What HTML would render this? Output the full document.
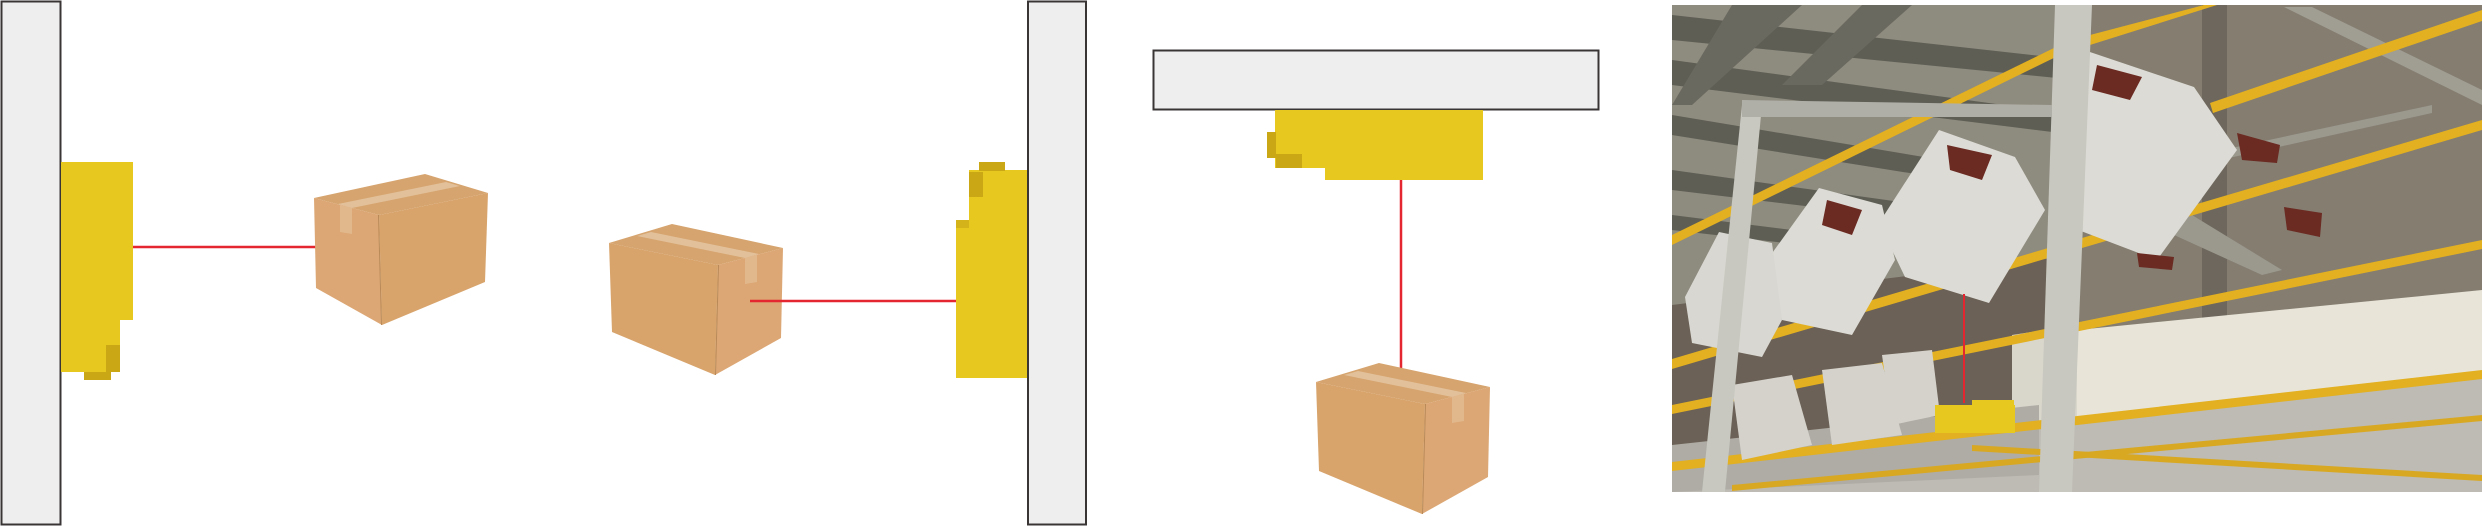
<!DOCTYPE html>
<html><head><meta charset="utf-8"><style>html,body{margin:0;padding:0;background:#fff;overflow:hidden;width:2482px;height:527px}svg{display:block}</style></head>
<body>
<svg width="2482" height="527" viewBox="0 0 2482 527" xmlns="http://www.w3.org/2000/svg">
<defs>
<g id="box">
<polygon points="0,19 63,0 174,24 109,41" fill="#d6a46e"/>
<polygon points="28,12 42,8 150,30 136,34" fill="#e2c09a"/>
<polygon points="0,19 109,41 106,151 3,108" fill="#d8a46c"/>
<polygon points="109,41 174,24 172,114 106,151" fill="#dca774"/>
<polygon points="109,41 110,41 107,151 106,151" fill="#b98a58"/>
<polygon points="136,34 148,31 148,58 136,60" fill="#e3bf97" opacity="0.7"/>
</g>
</defs>
<rect x="1.5" y="1.5" width="59" height="523" fill="#eeeeee" stroke="#3a3535" stroke-width="2"/>
<rect x="61" y="162" width="72" height="158" fill="#e6c81e"/>
<rect x="61" y="320" width="59" height="52" fill="#e6c81e"/>
<rect x="106" y="345" width="14" height="27" fill="#c9a715"/>
<rect x="84" y="372" width="27" height="8" fill="#c9a715"/>
<line x1="133" y1="247" x2="336" y2="247" stroke="#e3262f" stroke-width="2.5"/>
<use href="#box" transform="translate(1097,-50) scale(-1,1) translate(609,224)"/>
<use href="#box" transform="translate(609,224)"/>
<line x1="750" y1="301" x2="956" y2="301" stroke="#e3262f" stroke-width="2.5"/>
<rect x="956" y="220" width="72" height="158" fill="#e6c81e"/>
<rect x="969" y="170" width="59" height="60" fill="#e6c81e"/>
<rect x="969" y="172" width="14" height="25" fill="#c9a715"/>
<rect x="979" y="162" width="26" height="9" fill="#c9a715"/>
<rect x="956" y="220" width="13" height="8" fill="#d4b31a"/>
<rect x="1028" y="1.5" width="58" height="523" fill="#eeeeee" stroke="#3a3535" stroke-width="2"/>
<rect x="1153.5" y="50.5" width="445" height="59" fill="#eeeeee" stroke="#3a3535" stroke-width="2"/>
<rect x="1275" y="110" width="208" height="58" fill="#e6c81e"/>
<rect x="1325" y="167" width="158" height="13" fill="#e6c81e"/>
<rect x="1267" y="132" width="9" height="26" fill="#c9a715"/>
<rect x="1276" y="154" width="26" height="14" fill="#c9a715"/>
<line x1="1401" y1="180" x2="1401" y2="385" stroke="#e3262f" stroke-width="2.5"/>
<use href="#box" transform="translate(1316,363)"/>
<!-- photo -->
<svg x="1672" y="5" width="810" height="487" viewBox="0 0 810 487">
<rect width="810" height="487" fill="#7f796d"/>
<!-- ceiling left -->
<polygon points="0,0 405,0 405,300 0,330" fill="#8e8b7f"/>
<polygon points="0,10 405,55 405,75 0,35" fill="#5e5e55"/>
<polygon points="0,55 405,110 405,130 0,80" fill="#5e5e55"/>
<polygon points="0,110 300,160 300,178 0,130" fill="#5e5e55"/>
<polygon points="0,165 250,200 250,215 0,185" fill="#5e5e55"/>
<polygon points="0,210 200,235 200,248 0,225" fill="#5e5e55"/>
<polygon points="60,0 130,0 20,100 0,100" fill="#6a6960"/>
<polygon points="190,0 240,0 150,80 110,80" fill="#6a6960"/>
<!-- lower left dark -->
<polygon points="0,300 405,250 405,400 0,460" fill="#6b6156"/>
<!-- right concrete -->
<rect x="405" y="0" width="405" height="330" fill="#847d70"/>
<rect x="530" y="0" width="25" height="330" fill="#6d675d"/>
<polygon points="612,2 640,2 810,85 810,100" fill="#a09d92"/>
<polygon points="480,160 760,100 760,108 480,170" fill="#9b988e"/>
<polygon points="480,220 520,210 610,265 590,270" fill="#9b988e"/>
<!-- white wall -->
<polygon points="405,325 810,285 810,390 405,420" fill="#e8e4d8"/>
<polygon points="340,330 405,320 405,420 340,420" fill="#d9d6cc"/>
<!-- grating -->
<polygon points="0,460 810,368 810,487 0,487" fill="#bdbbb3"/>
<polygon points="0,440 367,400 367,470 0,487" fill="#aeaca4"/>
<!-- rails -->
<polygon points="0,230 388,40 392,48 0,240" fill="#e2b020"/>
<polygon points="418,30 532,0 545,0 418,40" fill="#e2b020"/>
<polygon points="538,98 810,5 810,16 541,108" fill="#e2b020"/>
<polygon points="0,354 810,115 810,125 0,364" fill="#e2b020"/>
<polygon points="0,400 810,235 810,244 0,409" fill="#e2b020"/>
<polygon points="0,457 810,365 810,374 0,466" fill="#e2b020"/>
<polygon points="60,480 810,410 810,416 60,486" fill="#d9a822"/>
<polygon points="300,440 810,470 810,476 300,446" fill="#d9a822"/>
<!-- lower bins row -->
<polygon points="60,380 120,370 140,440 70,455" fill="#d4d2cb"/>
<polygon points="150,365 210,358 230,430 160,440" fill="#d4d2cb"/>
<polygon points="210,350 260,345 268,410 220,420" fill="#d4d2cb"/>
<!-- bins -->
<polygon points="267,125 343,152 373,205 317,298 233,272 207,218" fill="#dcdbd5"/>
<polygon points="275,140 320,150 310,175 278,165" fill="#6b2a22"/>
<polygon points="147,183 210,200 223,255 180,330 110,315 93,258" fill="#dcdbd5"/>
<polygon points="155,195 190,205 180,230 150,220" fill="#6b2a22"/>
<polygon points="47,227 100,238 110,315 90,352 20,338 13,292" fill="#d8d7d1"/>
<polygon points="380,115 412,45 522,82 565,145 485,255 380,215" fill="#dcdbd5"/>
<polygon points="425,60 470,72 458,95 420,85" fill="#6b2a22"/>
<polygon points="565,128 608,140 605,158 570,155" fill="#6b2a22"/>
<polygon points="612,202 650,208 648,232 615,225" fill="#6b2a22"/>
<polygon points="465,248 502,252 500,265 467,262" fill="#6b2a22"/>
<!-- poles -->
<polygon points="383,0 420,0 400,487 367,487" fill="#c8c8c0"/>
<polygon points="70,100 90,100 53,487 30,487" fill="#c8c8c0"/>
<polygon points="70,95 380,100 380,112 70,112" fill="#b0afa7"/>
<!-- sensor -->
<line x1="292" y1="289" x2="292" y2="398" stroke="#e3262f" stroke-width="2"/>
<rect x="263" y="400" width="80" height="28" fill="#e6c81e"/>
<rect x="300" y="395" width="42" height="6" fill="#e6c81e"/>
</svg>
</svg>
</body></html>
